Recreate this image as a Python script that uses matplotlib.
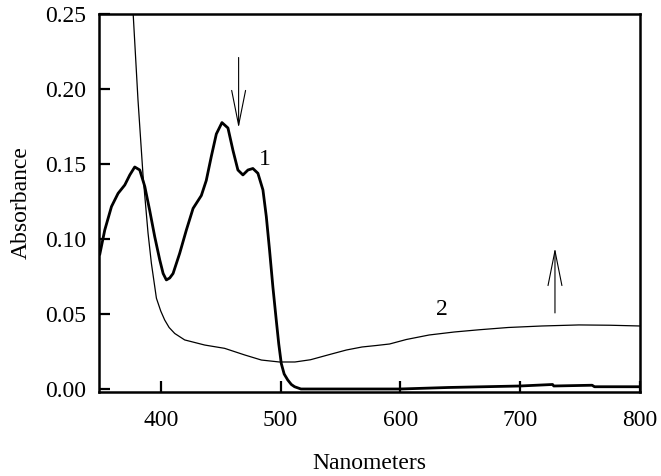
import matplotlib
matplotlib.use('Agg')
import matplotlib.pyplot as plt

plt.rcParams['font.family'] = ['Liberation Serif', 'DejaVu Serif']

# curve 1 (thick) - wavelength in nm, absorbance
nm1 = [349.2, 353.3, 358.9, 364.4, 370, 374.2, 378.3, 382.5, 386.7, 390.8,
       395, 399.2, 402, 404.7, 407.5, 410.3, 415.8, 421.4, 427, 433.9, 438,
       442.2, 446.4, 451.1, 456.1, 460.3, 464.4, 468.6, 472.8, 476.9, 481.1,
       485.3, 488.1, 490.8, 493.6, 496.4, 498.5, 500.6, 503, 506, 509, 511.7,
       517, 550, 600, 640, 700, 727, 728, 760, 762, 800]
abs1 = [0.090, 0.106, 0.1216, 0.1304, 0.136, 0.1427, 0.148, 0.146, 0.135,
        0.119, 0.1015, 0.086, 0.077, 0.0727, 0.074, 0.077, 0.0904, 0.106,
        0.1204, 0.129, 0.139, 0.155, 0.170, 0.1776, 0.174, 0.159, 0.146,
        0.1427, 0.146, 0.147, 0.1438, 0.1327, 0.115, 0.0927, 0.068, 0.046,
        0.030, 0.017, 0.010, 0.006, 0.003, 0.0015, 0.0, 0.0, 0.0, 0.001,
        0.002, 0.003, 0.002, 0.0025, 0.0015, 0.0015]

# curve 2 (thin)
nm2 = [370, 377, 381, 385.3, 389.4, 392.2, 396.4, 400, 403.3, 407, 411.7, 420,
       436.7, 453.3, 470, 484, 499, 512, 525, 541, 555, 568, 580, 591, 605,
       624, 645, 666, 690, 718, 749, 775, 800]
abs2 = [0.35, 0.25, 0.193, 0.1416, 0.104, 0.0838, 0.0605, 0.052, 0.046, 0.041,
        0.037, 0.0327, 0.0293, 0.0271, 0.0227, 0.0193, 0.018, 0.018, 0.0195,
        0.023, 0.026, 0.028, 0.029, 0.030, 0.033, 0.036, 0.038, 0.0395, 0.041,
        0.042, 0.0427, 0.0425, 0.042]

xticks = [400, 500, 600, 700, 800]
yticks = [0.00, 0.05, 0.10, 0.15, 0.20, 0.25]

fig = plt.figure(figsize=(6.61, 4.76), dpi=100)
ax = fig.add_axes([0.1498, 0.1765, 0.8185, 0.7941])

ax.plot(nm1, abs1, color='black', lw=2.0)
ax.plot(nm2, abs2, color='black', lw=0.9)

ax.set_xlim(348.5, 799.5)
ax.set_ylim(-0.002, 0.25)
ax.set_xticks(xticks)
ax.set_yticks(yticks)
ax.set_yticklabels(['%.2f' % v for v in yticks])
ax.tick_params(direction='in', length=8, width=1.6, labelsize=17, pad=9)
ax.tick_params(axis='x', pad=13)
for s in ax.spines.values():
    s.set_linewidth(1.8)

ax.set_xlabel('Nanometers', fontsize=17, labelpad=16)
ax.set_ylabel('Absorbance', fontsize=17, labelpad=10)

# arrows and curve labels
arr = dict(arrowstyle='->,head_length=1.25,head_width=0.25', lw=0.8,
           color='black', shrinkA=0, shrinkB=0, mutation_scale=20)
ax.annotate('', xy=(465, 0.174), xytext=(465, 0.221), arrowprops=arr)
ax.annotate('', xy=(729, 0.094), xytext=(729, 0.0507), arrowprops=arr)
ax.text(487, 0.153, '1', fontsize=17, ha='center', va='center')
ax.text(635, 0.053, '2', fontsize=17, ha='center', va='center')

fig.savefig('out.png', dpi=100)
